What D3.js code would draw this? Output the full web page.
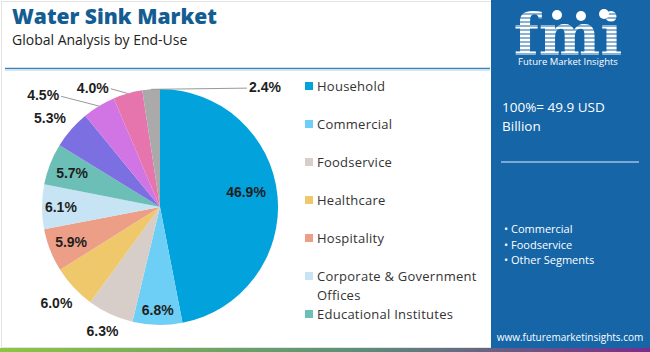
<!DOCTYPE html>
<html>
<head>
<meta charset="utf-8">
<script src="https://cdn.jsdelivr.net/npm/d3@7"></script>
<style>
  body { margin: 0; background: #fff; }
  svg { display: block; font-family: 'Open Sans', sans-serif; }
</style>
</head>
<body>
<div class="chart"></div>
<script>
var W = 650;
var H = 352;

// data
var categories = ['Household', 'Commercial', 'Foodservice', 'Healthcare', 'Hospitality',
  'Corporate & Government Offices', 'Educational Institutes',
  'Laboratories', 'Industrial', 'Transportation', 'Others'];
var shares = [46.9, 6.8, 6.3, 6.0, 5.9, 6.1, 5.7, 5.3, 4.5, 4.0, 2.4];
var legendShown = 7;
var totalLabel = ['100%= 49.9 USD', 'Billion'];
var keySegments = ['Commercial', 'Foodservice', 'Other Segments'];

var colorPalette = ['#02a3dd', '#6dcff5', '#d7cdc9', '#efc86b', '#ec9e87', '#c6e4f4',
  '#6cbfb6', '#7c6fe2', '#d175e5', '#e675ad', '#aaaaaa'];

// label placement per slice: radius as share of R, optional angle (deg), leader line
var labelLayout = [
  { r: 0.74, a: 80 }, { r: 0.87 }, { r: 1.16 }, { r: 1.2 }, { r: 0.81 }, { r: 0.84 },
  { r: 0.8 }, { r: 1.2, a: 309 },
  { r: 1.37, a: 313.7, leader: true }, { r: 1.16, a: 330.6, leader: true },
  { r: 1.35, a: 41.2, leader: true }
];

var svg = d3.select('.chart').append('svg').attr('width', W).attr('height', H);

/* ===== FRAME ===== */
var defs = svg.append('defs');
var grad = defs.append('linearGradient').attr('id', 'bottomBar');
grad.append('stop').attr('offset', '0%').attr('stop-color', '#8cc641');
grad.append('stop').attr('offset', '55%').attr('stop-color', '#5a8f7a');
grad.append('stop').attr('offset', '100%').attr('stop-color', '#7a2c8c');

svg.append('rect').attr('x', 1.5).attr('y', 1.5).attr('width', 490).attr('height', 346)
  .attr('fill', 'none').attr('stroke', '#e3e3e3');
svg.append('rect').attr('x', 0).attr('y', 348).attr('width', W).attr('height', 4)
  .attr('fill', 'url(#bottomBar)');

svg.append('text').attr('x', 12).attr('y', 24)
  .attr('font-size', 21).attr('font-weight', 800).attr('fill', '#145d92')
  .text('Water Sink Market');
svg.append('text').attr('x', 12).attr('y', 45)
  .attr('font-size', 14).attr('fill', '#222')
  .text('Global Analysis by End-Use');

svg.append('line').attr('x1', 5).attr('x2', 490).attr('y1', 68.5).attr('y2', 68.5)
  .attr('stroke', '#3b84bb').attr('stroke-width', 1.5);
svg.append('line').attr('x1', 5).attr('x2', 490).attr('y1', 70.5).attr('y2', 70.5)
  .attr('stroke', '#d3e8f4').attr('stroke-width', 1);

/* ===== PIE ===== */
var cx = 160, cy = 207, R = 118;
var pieData = shares.map(function (v, i) { return { name: categories[i], value: v }; });

var pie = d3.pie().value(function (d) { return d.value; }).sort(null);
var arc = d3.arc().innerRadius(0).outerRadius(R);
var arcs = pie(pieData);

var pieG = svg.append('g').attr('transform', 'translate(' + cx + ',' + cy + ')');

pieG.selectAll('path').data(arcs).enter().append('path')
  .attr('d', arc)
  .attr('fill', function (d) { return colorPalette[d.index]; });

function polar(angleDeg, r) {
  var a = angleDeg * Math.PI / 180;
  return [r * Math.sin(a), -r * Math.cos(a)];
}

arcs.forEach(function (d) {
  var lay = labelLayout[d.index];
  var mid = (d.startAngle + d.endAngle) / 2 * 180 / Math.PI;
  var ang = lay.a !== undefined ? lay.a : mid;
  var p = polar(ang, lay.r * R);
  var t = pieG.append('text')
    .attr('x', p[0]).attr('y', p[1]).attr('dy', '0.35em')
    .attr('text-anchor', 'middle')
    .attr('font-family', "'Liberation Sans', Arial, sans-serif")
    .attr('font-size', 14).attr('font-weight', 'bold').attr('fill', '#1e1e1e')
    .text(d.data.value.toFixed(1) + '%');
  if (lay.leader) {
    var half = t.node().getComputedTextLength() / 2 + 2;
    var edge = polar(mid, R);
    var sx = edge[0] > p[0] ? p[0] + half : p[0] - half;
    pieG.insert('line', 'text')
      .attr('x1', sx).attr('y1', p[1] + 1)
      .attr('x2', edge[0]).attr('y2', edge[1])
      .attr('stroke', '#9a9a9a').attr('stroke-width', 1);
  }
});

/* ===== LEGEND ===== */
var legend = svg.append('g').attr('transform', 'translate(305,0)');
var rowY = d3.scaleLinear().domain([0, 1]).range([86, 124]);

categories.slice(0, legendShown).forEach(function (name, i) {
  var y = rowY(i);
  legend.append('rect').attr('x', 0).attr('y', y - 4).attr('width', 8).attr('height', 8)
    .attr('fill', colorPalette[i]);
  var words = name === 'Corporate & Government Offices'
    ? ['Corporate & Government', 'Offices'] : [name];
  words.forEach(function (w, j) {
    legend.append('text').attr('x', 12).attr('y', y + j * 19).attr('dy', '0.35em')
      .attr('font-size', 13).attr('letter-spacing', 0.25).attr('fill', '#333').text(w);
  });
});

/* ===== SIDE PANEL ===== */
var panelBlue = '#1565a7';
var panel = svg.append('g').attr('transform', 'translate(491,0)');
panel.append('rect').attr('x', 0).attr('y', 0).attr('width', W - 491).attr('height', 348)
  .attr('fill', panelBlue);

// striped logo letters drawn through a mask
var logoMask = defs.append('mask').attr('id', 'logoMask')
  .attr('maskUnits', 'userSpaceOnUse')
  .attr('x', 0).attr('y', 0).attr('width', 160).attr('height', 60);
logoMask.append('text').attr('x', 77).attr('y', 55).attr('text-anchor', 'middle')
  .attr('font-family', "'DejaVu Serif', serif").attr('font-weight', 'bold')
  .attr('font-size', 58).attr('fill', '#fff').text('fmi');
d3.range(14, 56, 4).forEach(function (y) {
  logoMask.append('line').attr('x1', 0).attr('x2', 160).attr('y1', y).attr('y2', y)
    .attr('stroke', '#000').attr('stroke-width', 1.2);
});
panel.append('rect').attr('x', 0).attr('y', 0).attr('width', 160).attr('height', 57)
  .attr('fill', '#fff').attr('mask', 'url(#logoMask)');
[[66, 15], [90, 16], [113, 14]].forEach(function (c) {
  panel.append('circle').attr('cx', c[0]).attr('cy', c[1]).attr('r', 5).attr('fill', '#fff');
});
panel.append('text').attr('x', 77).attr('y', 65).attr('text-anchor', 'middle')
  .attr('font-size', 9.5).attr('fill', '#fff').text('Future Market Insights');

totalLabel.forEach(function (t, i) {
  panel.append('text').attr('x', 11).attr('y', 112 + i * 19)
    .attr('font-size', 13.5).attr('fill', '#fff').text(t);
});
panel.append('line').attr('x1', 10).attr('x2', 148).attr('y1', 162).attr('y2', 162)
  .attr('stroke', '#9cc2e2').attr('stroke-width', 1.5);

keySegments.forEach(function (t, i) {
  panel.append('text').attr('x', 13).attr('y', 233 + i * 15.5)
    .attr('font-size', 11).attr('fill', '#fff').text('\u2022 ' + t);
});

panel.append('text').attr('x', 79).attr('y', 341).attr('text-anchor', 'middle')
  .attr('font-size', 10).attr('fill', '#fff').text('www.futuremarketinsights.com');
</script>
</body>
</html>
